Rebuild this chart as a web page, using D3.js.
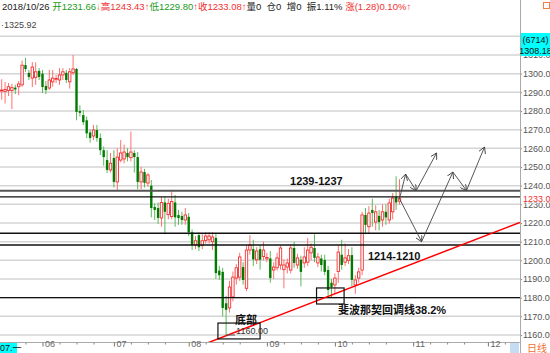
<!DOCTYPE html>
<html>
<head>
<meta charset="utf-8">
<script src="https://cdn.jsdelivr.net/npm/d3@7"></script>
<style>
  body { margin: 0; background: #fff; }
  svg { display: block; font-family: "Liberation Sans", "Noto Sans CJK SC", sans-serif; }
</style>
</head>
<body>
<div id="chart"></div>
<script>
// daily candles, 2018-05-16 .. 2018-10-26 (index = trading day)
const opens = [1290.7,1290.5,1291,1291,1292.5,1293,1294,1304.6,1300.4,1297.6,1298,1301.5,1300,1293.4,1292.3,1295.6,1297,1296.6,1299.3,1300.4,
  1295.6,1300.5,1302.5,1280,1277.8,1275,1268.5,1266.6,1269.8,1265.5,1259,1253.7,1248.4,1254.8,1242,1253.7,1254.3,1257.5,1255,1257.5,
  1255.3,1242,1247.3,1241.4,1240,1228.6,1228,1222.7,1231,1224.5,1223.5,1231,1224.3,1223.7,1221.6,1223.3,1215,1208.2,1213.5,1208,
  1210.6,1211,1210,1212,1194.5,1193.8,1177,1174.5,1180.4,1190.5,1191,1196.4,1185,1205.5,1206,1200.3,1206,1202,1200.8,1201,
  1194.8,1196,1197.5,1195,1196.4,1194.8,1206.6,1197.5,1200.3,1198.6,1199,1204,1206.6,1198.6,1201,1200.2,1194.8,1188,1186.8,1194,
  1203,1199,1200,1202.8,1186.8,1190.5,1194.8,1224.3,1218,1227,1220.5,1223.8,1221.6,1226,1221.6,1226,1234,1231.66];
const highs = [1297,1295.5,1295,1294.5,1294,1296,1307,1308.4,1302,1306.2,1306,1303,1302,1296,1302,1302,1299.3,1303,1303,1302,
  1303,1310,1303,1283,1280.5,1277,1270,1272.5,1272.5,1268,1261,1259,1257.5,1259,1260,1264.4,1262,1260,1269,1259,
  1258,1250,1249,1246.8,1243,1230.7,1231,1234,1234,1233,1237,1235,1227,1226,1228,1225.3,1216.5,1213,1215,1214,
  1215,1215,1215,1214.5,1197,1196,1181,1189,1194,1198,1204,1199,1208,1213.5,1211,1207,1208,1210,1204,1205,
  1199,1204,1208,1200.5,1201,1208.5,1210,1203.5,1202.5,1207,1212,1209,1214,1204,1203,1203,1197,1190,1193,1208,
  1211,1209,1206,1207,1192,1196,1226,1228,1229,1233,1229.5,1227,1230,1230,1233,1236,1245,1243.43];
const lows = [1286,1284,1288,1281,1289,1288.5,1293,1301,1296.6,1292.8,1294,1296.6,1289.6,1289,1291.2,1293,1295,1294,1296.6,1295,
  1292,1299.3,1275,1277,1272.5,1265.5,1263,1264.4,1263.5,1256.4,1250.7,1246.8,1247,1239,1237.5,1252.6,1252,1253,1253,1247,
  1238,1238,1239,1239.4,1223,1221.6,1219.5,1218,1214,1222,1222,1218,1219,1219,1219,1213,1205.5,1206,1205,1206,
  1209,1209,1205.5,1190,1189.5,1170,1160,1172,1178,1187,1189,1187,1183.5,1203,1197,1198,1195,1200,1199,1188,
  1190,1194.5,1195,1185,1193,1193,1196,1195.5,1186,1196,1197,1200,1199,1196.4,1194,1192,1181,1180,1182,1188,
  1195,1197,1198,1186,1182,1188,1192,1214,1214.5,1218,1216,1216,1218,1219,1219.6,1222,1227,1229.80];
const closes = [1291.2,1291.5,1293,1292.5,1291.5,1294.5,1304.5,1302.5,1298.2,1303.5,1301,1298.2,1292.8,1291.2,1296.6,1297.6,1297.4,1299.3,1301,1296.6,
  1301,1302.5,1279.5,1279,1274,1268,1265.5,1269.8,1265.5,1259,1255.3,1248.4,1252,1242,1255.3,1257.5,1258,1255.3,1258,1255.3,
  1242,1247.3,1241.5,1245.7,1228,1227,1222.7,1231,1226,1230.5,1231.5,1223,1222.6,1221.6,1224.3,1215,1208.2,1210.5,1207,1210.5,
  1213,1213,1212.5,1193.2,1192,1174.5,1173.5,1185.7,1191,1196,1201.8,1189.5,1205.5,1208.2,1200.5,1205,1200.3,1205.5,1201.5,1190.5,
  1196.4,1201.3,1206.6,1197.5,1198.6,1206.6,1198.6,1201.3,1193.8,1201.8,1205.5,1207,1201.3,1201.8,1197.5,1193.8,1184.1,1185.7,1190.5,1204.4,
  1197.5,1201.3,1202.5,1189.5,1189.5,1193.8,1224.3,1219,1225.3,1225.4,1226,1220.5,1226,1223,1230.7,1233.3,1231,1233.08];

const priceTicks = d3.range(1160, 1321, 10);
const monthTicks = [12, 33, 55, 78, 98, 121, 143];
const monthLabels = ["06", "07", "08", "09", "10", "11", "12"];
const weekTicks = [2, 7, 17, 22, 27, 38, 43, 48, 60, 65, 70, 83, 88, 93, 103, 108, 113, 126, 131, 136, 148];

// annotation levels and projections (index, price)
const levels = [1237.3, 1234, 1214.5, 1208.2, 1180];
const trend = [[60.7, 1155.9], [152.4, 1220.3]];
const pathUp = [[117, 1233], [118.8, 1246.2], [121.9, 1237.3], [127.9, 1257.5]];
const pathDown = [[117, 1233], [123.5, 1210], [132.7, 1247.3], [136.7, 1237.4], [142, 1260.7]];

const header = [
  ["2018/10/26 ", "#222"], ["开1231.66", "#1a9a1a"], ["↓", "#e07020"], ["高1243.43", "#f03030"], ["↑", "#f03030"],
  ["低1229.80", "#1a9a1a"], ["↑", "#f03030"], ["收1233.08", "#f03030"], ["↑", "#f03030"],
  ["量0  仓0  增0  振1.11% ", "#222"], ["涨(1.28)0.10%↑", "#f03030"]
];

const width = 550, height = 353, plotRight = 520, axisY = 342.5;

const svg = d3.select("#chart").append("svg")
  .attr("width", width).attr("height", height)
  .attr("viewBox", [0, 0, width, height]);

const x = d3.scaleLinear().domain([0, 152]).range([1.7, 1.7 + 152 * 3.4]);
const y = d3.scaleLinear().domain([1160, 1320]).range([335, 36.3]);

svg.append("clipPath").attr("id", "plot")
  .append("rect").attr("x", 0).attr("y", 28).attr("width", plotRight).attr("height", axisY - 28);

// grid
svg.append("g").selectAll("line").data(priceTicks).join("line")
  .attr("x1", 0).attr("x2", plotRight)
  .attr("y1", d => y(d)).attr("y2", d => y(d))
  .attr("stroke", "#d4d4d4").attr("stroke-width", 1.5);

// header
const head = svg.append("text").attr("x", 2).attr("y", 10).attr("font-size", 9.5);
head.selectAll("tspan").data(header).join("tspan")
  .attr("fill", d => d[1]).attr("xml:space", "preserve").text(d => d[0]);
svg.append("text").attr("x", 1).attr("y", 28).attr("font-size", 9).attr("fill", "#444").text("·1325.92");
svg.append("rect").attr("x", 543.5).attr("y", 2.5).attr("width", 6).attr("height", 6)
  .attr("fill", "none").attr("stroke", "#f08040");

// candles
const data = opens.map((o, i) => ({ i, o, h: highs[i], l: lows[i], c: closes[i] }));
const bw = 2.4;
const candles = svg.append("g").attr("clip-path", "url(#plot)")
  .selectAll("g").data(data).join("g");

candles.filter(d => d.c < d.o).each(function (d) {
  const g = d3.select(this);
  g.append("line").attr("x1", x(d.i)).attr("x2", x(d.i)).attr("y1", y(d.h)).attr("y2", y(d.l))
    .attr("stroke", "#5cb85c").attr("stroke-width", 1);
  g.append("rect").attr("x", x(d.i) - bw / 2).attr("width", bw)
    .attr("y", y(d.o)).attr("height", Math.max(1, y(d.c) - y(d.o)))
    .attr("fill", "#007a00");
});
candles.filter(d => d.c >= d.o).each(function (d) {
  const g = d3.select(this);
  const top = y(d.c), bot = y(d.o);
  g.append("line").attr("x1", x(d.i)).attr("x2", x(d.i)).attr("y1", y(d.h)).attr("y2", top)
    .attr("stroke", "#ff7070").attr("stroke-width", 1);
  g.append("line").attr("x1", x(d.i)).attr("x2", x(d.i)).attr("y1", bot).attr("y2", y(d.l))
    .attr("stroke", "#ff7070").attr("stroke-width", 1);
  g.append("rect").attr("x", x(d.i) - bw / 2).attr("width", bw)
    .attr("y", top).attr("height", Math.max(0.8, bot - top))
    .attr("fill", "#fff").attr("stroke", "#f03030").attr("stroke-width", 0.9);
});

// support / resistance levels
const ann = svg.append("g").attr("clip-path", "url(#plot)");
ann.selectAll("line.lvl").data(levels).join("line").attr("class", "lvl")
  .attr("x1", 0).attr("x2", plotRight)
  .attr("y1", d => y(d)).attr("y2", d => y(d))
  .attr("stroke", (d, i) => i === 0 ? "#555" : "#111")
  .attr("stroke-width", (d, i) => i === 0 ? 2 : 1.4);

ann.append("line")
  .attr("x1", x(trend[0][0])).attr("y1", y(trend[0][1]))
  .attr("x2", x(trend[1][0])).attr("y2", y(trend[1][1]))
  .attr("stroke", "#ff0000").attr("stroke-width", 1.5);

// boxes
ann.append("rect").attr("x", x(63.6)).attr("y", y(1166.4))
  .attr("width", x(76) - x(63.6)).attr("height", y(1157.9) - y(1166.4))
  .attr("fill", "none").attr("stroke", "#111").attr("stroke-width", 1.2);
ann.append("rect").attr("x", x(92.6)).attr("y", y(1185.2))
  .attr("width", x(100.7) - x(92.6)).attr("height", y(1176.6) - y(1185.2))
  .attr("fill", "none").attr("stroke", "#111").attr("stroke-width", 1.2);

// lowest price marker
ann.append("line").attr("x1", x(66)).attr("x2", x(66) + 9).attr("y1", y(1160)).attr("y2", y(1160))
  .attr("stroke", "#555");
ann.append("text").attr("x", x(66) + 10).attr("y", y(1160) - 1).attr("font-size", 9)
  .attr("fill", "#333").text("1160.00");

// projection arrows
svg.append("defs").append("marker").attr("id", "arr")
  .attr("viewBox", "0 0 8 8").attr("refX", 7).attr("refY", 4)
  .attr("markerWidth", 7).attr("markerHeight", 7).attr("markerUnits", "userSpaceOnUse")
  .attr("orient", "auto")
  .append("path").attr("d", "M0,0L7,4L0,8").attr("fill", "none").attr("stroke", "#444").attr("stroke-width", 1);

[pathUp, pathDown].forEach(p => {
  d3.pairs(p).forEach(([a, b]) => {
    svg.append("line")
      .attr("x1", x(a[0])).attr("y1", y(a[1])).attr("x2", x(b[0])).attr("y2", y(b[1]))
      .attr("stroke", "#444").attr("stroke-width", 0.9).attr("marker-end", "url(#arr)");
  });
});

// labels
const bold = { "font-size": 11, "font-weight": "bold", fill: "#111" };
function label(t, i, v) {
  const el = svg.append("text").attr("x", x(i)).attr("y", y(v)).text(t);
  Object.entries(bold).forEach(([k, val]) => el.attr(k, val));
}
label("1239-1237", 84.8, 1240.3);
label("1214-1210", 107.7, 1200.2);
label("底部", 68.6, 1165.9);
label("斐波那契回调线38.2%", 98.9, 1171.2);

// right axis
const yAxis = svg.append("g").attr("transform", `translate(${plotRight},0)`)
  .call(d3.axisRight(y).tickValues(priceTicks).tickFormat(d3.format(".2f")).tickSize(2).tickPadding(1));
yAxis.select(".domain").remove();
yAxis.selectAll("line").attr("stroke", "#888");
yAxis.selectAll("text").attr("fill", "#555").attr("font-size", 9).attr("font-family", "Liberation Sans");
svg.append("line").attr("x1", plotRight + 0.5).attr("x2", plotRight + 0.5).attr("y1", 0).attr("y2", height)
  .attr("stroke", "#aaa");

// last price and cursor boxes
const last = closes[closes.length - 1];
svg.append("rect").attr("x", plotRight + 2).attr("y", y(last) - 5)
  .attr("width", 28).attr("height", 9).attr("fill", "#fff");
svg.append("text").attr("x", plotRight + 3).attr("y", y(last) + 3)
  .attr("font-size", 9).attr("fill", "#f03030").text(d3.format(".2f")(last));

svg.append("rect").attr("x", plotRight + 1).attr("y", 33).attr("width", 29).attr("height", 23).attr("fill", "#00ffff");
svg.append("text").attr("x", plotRight + 15.5).attr("y", 43).attr("text-anchor", "middle")
  .attr("font-size", 9).attr("fill", "#111").text("(6714)");
svg.append("text").attr("x", plotRight + 15.5).attr("y", 54).attr("text-anchor", "middle")
  .attr("font-size", 9).attr("fill", "#111").text("1308.18");

// bottom axis
svg.append("rect").attr("x", 0).attr("y", axisY).attr("width", plotRight).attr("height", height - axisY).attr("fill", "#fff");
svg.append("line").attr("x1", 0).attr("x2", plotRight).attr("y1", axisY).attr("y2", axisY).attr("stroke", "#aaa");

const xAxis = svg.append("g").attr("transform", `translate(0,${axisY})`)
  .call(d3.axisBottom(x).tickValues(monthTicks).tickSize(4).tickFormat((d, i) => monthLabels[i]));
xAxis.select(".domain").remove();
xAxis.selectAll("line").attr("stroke", "#777");
xAxis.selectAll("text").attr("text-anchor", "start").attr("dx", 2).attr("dy", 0).attr("y", 4)
  .attr("font-size", 9).attr("fill", "#666");

const minor = svg.append("g").attr("transform", `translate(0,${axisY})`)
  .call(d3.axisBottom(x).tickValues(weekTicks).tickSize(2).tickFormat(""));
minor.select(".domain").remove();
minor.selectAll("line").attr("stroke", "#888");

svg.append("rect").attr("x", 0).attr("y", axisY + 0.5).attr("width", 17).attr("height", height - axisY).attr("fill", "#00ffff");
svg.append("text").attr("x", 0).attr("y", 351).attr("font-size", 9).attr("fill", "#111").text("07.一");
svg.append("rect").attr("x", 510).attr("y", axisY + 0.5).attr("width", 9).attr("height", height - axisY).attr("fill", "#c4dcf4");
svg.append("text").attr("x", 527).attr("y", 352).attr("font-size", 10).attr("fill", "#f07030").text("日线");
</script>
</body>
</html>
